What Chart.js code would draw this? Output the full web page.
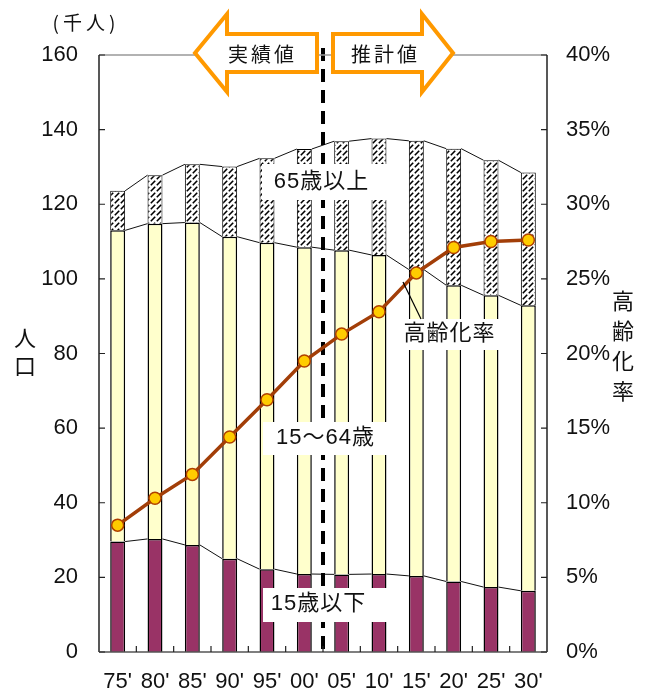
<!DOCTYPE html>
<html>
<head>
<meta charset="utf-8">
<script src="https://cdn.jsdelivr.net/npm/chart.js@4.4.1/dist/chart.umd.min.js"></script>
<style>
body { margin: 0; background: #fff; }
</style>
</head>
<body>
<canvas id="myChart" width="648" height="699"></canvas>
<script>
// 年（西暦下2桁）
const labels = ["75'", "80'", "85'", "90'", "95'", "00'", "05'", "10'", "15'", "20'", "25'", "30'"];
// 人口（千人）
const under15 = [29.6, 30.3, 28.7, 25.0, 22.2, 20.9, 20.8, 20.9, 20.4, 18.9, 17.4, 16.4];
const age15to64 = [83.4, 84.5, 86.4, 86.3, 87.5, 87.6, 86.9, 85.5, 82.1, 79.4, 78.2, 76.5];
const over65 = [10.6, 13.0, 15.6, 18.8, 22.6, 26.3, 29.2, 31.2, 34.5, 36.6, 36.2, 35.6];
// 高齢化率（%）
const agingRate = [8.5, 10.3, 11.9, 14.4, 16.9, 19.5, 21.3, 22.8, 25.4, 27.1, 27.5, 27.6];
const leftTicks = [0, 20, 40, 60, 80, 100, 120, 140, 160];
const rightTicks = [0, 5, 10, 15, 20, 25, 30, 35, 40];

const FONT = "'Liberation Sans', 'Noto Sans CJK JP', sans-serif";
const JP = "'Noto Sans CJK JP', sans-serif";

function hatch() {
    const c = document.createElement('canvas');
    c.width = 6; c.height = 6;
    const g = c.getContext('2d');
    g.fillStyle = '#fff';
    g.fillRect(0, 0, 6, 6);
    g.strokeStyle = '#000';
    g.lineWidth = 1.6;
    g.beginPath();
    g.moveTo(0.8, 5.2); g.lineTo(5.2, 0.8);
    g.stroke();
    return g.createPattern(c, 'repeat');
}

// 棒の間の区分線、破線
const seriesLines = {
    id: 'seriesLines',
    beforeDatasetDraw(chart, args) {
        if (args.index !== 3) return;
        const ctx = chart.ctx;
        ctx.save();
        ctx.strokeStyle = '#111';
        ctx.lineWidth = 1;
        for (let d = 0; d < 3; d++) {
            const els = chart.getDatasetMeta(d).data;
            for (let i = 0; i < els.length - 1; i++) {
                const a = els[i], b = els[i + 1];
                ctx.beginPath();
                ctx.moveTo(a.x + a.width / 2, a.y);
                ctx.lineTo(b.x - b.width / 2, b.y);
                ctx.stroke();
            }
        }
        const x = chart.scales.x;
        const dx = (x.getPixelForValue(5) + x.getPixelForValue(6)) / 2;
        ctx.strokeStyle = '#000';
        ctx.lineWidth = 4;
        ctx.setLineDash([13, 8]);
        ctx.beginPath();
        ctx.moveTo(dx, 48);
        ctx.lineTo(dx, chart.chartArea.bottom);
        ctx.stroke();
        ctx.restore();
    }
};

function spaced(ctx, text, cx, cy, gap) {
    const ws = [...text].map(ch => ctx.measureText(ch).width);
    let total = ws.reduce((s, w) => s + w, 0) + gap * (ws.length - 1);
    let x = cx - total / 2;
    ctx.textAlign = 'left';
    [...text].forEach((ch, i) => {
        ctx.fillText(ch, x, cy);
        x += ws[i] + gap;
    });
}

function box(ctx, x1, y1, x2, y2, text, cx, cy) {
    ctx.fillStyle = '#fff';
    ctx.fillRect(x1, y1, x2 - x1, y2 - y1);
    ctx.fillStyle = '#111';
    ctx.font = '22px ' + FONT;
    ctx.textBaseline = 'middle';
    spaced(ctx, text, cx, cy, 1);
}

const decorations = {
    id: 'decorations',
    beforeDraw(chart) {
        const ctx = chart.ctx;
        ctx.save();
        ctx.fillStyle = '#fff';
        ctx.fillRect(0, 0, chart.width, chart.height);
        ctx.restore();
    },
    afterDraw(chart) {
        const ctx = chart.ctx;
        const a = chart.chartArea;
        const y = chart.scales.y, y1 = chart.scales.y1, x = chart.scales.x;
        ctx.save();
        // 枠
        ctx.lineWidth = 1.5;
        ctx.strokeStyle = '#999';
        ctx.beginPath(); ctx.moveTo(a.left, a.top); ctx.lineTo(a.right, a.top); ctx.stroke();
        ctx.strokeStyle = '#222';
        ctx.beginPath();
        ctx.moveTo(a.left, a.top); ctx.lineTo(a.left, a.bottom);
        ctx.moveTo(a.right, a.top); ctx.lineTo(a.right, a.bottom);
        ctx.stroke();
        ctx.strokeStyle = '#555';
        ctx.beginPath(); ctx.moveTo(a.left, a.bottom); ctx.lineTo(a.right, a.bottom); ctx.stroke();
        // 目盛り（内向き）
        ctx.strokeStyle = '#222';
        ctx.lineWidth = 1.2;
        ctx.beginPath();
        leftTicks.forEach(v => { const p = y.getPixelForValue(v); ctx.moveTo(a.left, p); ctx.lineTo(a.left + 6, p); });
        rightTicks.forEach(v => { const p = y1.getPixelForValue(v); ctx.moveTo(a.right, p); ctx.lineTo(a.right - 6, p); });
        for (let i = 0; i < labels.length - 1; i++) {
            const p = (x.getPixelForValue(i) + x.getPixelForValue(i + 1)) / 2;
            ctx.moveTo(p, a.bottom); ctx.lineTo(p, a.bottom - 6);
        }
        ctx.stroke();

        // ラベル
        box(ctx, 262, 164, 390, 200, '65歳以上', 321, 182);
        box(ctx, 263, 422, 390, 455, '15～64歳', 325, 438);
        box(ctx, 263, 588, 388, 622, '15歳以下', 318, 604);
        box(ctx, 398, 319, 500, 350, '高齢化率', 449, 334);
        ctx.strokeStyle = '#000';
        ctx.lineWidth = 1.2;
        ctx.beginPath(); ctx.moveTo(403, 282); ctx.lineTo(421, 319); ctx.stroke();

        // 矢印
        ctx.lineWidth = 4;
        ctx.strokeStyle = '#FF9900';
        ctx.fillStyle = '#fff';
        ctx.lineJoin = 'miter';
        ctx.beginPath();
        [[195, 53], [227, 14], [227, 34], [317, 34], [317, 72], [227, 72], [227, 92]].forEach((p, i) => i ? ctx.lineTo(p[0], p[1]) : ctx.moveTo(p[0], p[1]));
        ctx.closePath(); ctx.fill(); ctx.stroke();
        ctx.beginPath();
        [[333, 34], [422, 34], [422, 14], [453, 53], [422, 92], [422, 72], [333, 72]].forEach((p, i) => i ? ctx.lineTo(p[0], p[1]) : ctx.moveTo(p[0], p[1]));
        ctx.closePath(); ctx.fill(); ctx.stroke();
        ctx.fillStyle = '#111';
        ctx.font = '20px ' + JP;
        ctx.textBaseline = 'middle';
        spaced(ctx, '実績値', 261, 54, 3);
        spaced(ctx, '推計値', 384, 54, 3);

        // 軸タイトル
        ctx.font = '19px ' + JP;
        spaced(ctx, '(千人)', 84, 23, 4);
        ctx.font = '22px ' + JP;
        ctx.textAlign = 'center';
        ctx.fillText('人', 25, 338);
        ctx.fillText('口', 25, 366);
        ['高', '齢', '化', '率'].forEach((ch, i) => ctx.fillText(ch, 623, 301 + i * 30));
        ctx.restore();
    }
};

const data = {
    labels: labels,
    datasets: [{
        label: '15歳以下',
        data: under15,
        backgroundColor: '#993366',
        borderColor: '#000',
        borderWidth: 1.5,
        order: 1
    }, {
        label: '15～64歳',
        data: age15to64,
        backgroundColor: '#FFFFCC',
        borderColor: '#000',
        borderWidth: 1.5,
        order: 1
    }, {
        label: '65歳以上',
        data: over65,
        backgroundColor: hatch(),
        borderColor: '#000',
        borderWidth: 1,
        order: 1
    }, {
        type: 'line',
        label: '高齢化率',
        data: agingRate,
        yAxisID: 'y1',
        borderColor: '#A23E08',
        borderWidth: 3.5,
        pointRadius: 6,
        pointBackgroundColor: '#FFCC00',
        pointBorderColor: '#B04000',
        pointBorderWidth: 1.5,
        tension: 0,
        order: 0
    }]
};

const config = {
    type: 'bar',
    data: data,
    options: {
        responsive: false,
        animation: false,
        devicePixelRatio: 1,
        layout: { padding: { top: 55, left: 0, right: 0, bottom: 0 } },
        datasets: { bar: { categoryPercentage: 1, barPercentage: 0.4 } },
        plugins: { legend: { display: false }, tooltip: { enabled: false } },
        scales: {
            x: {
                stacked: true,
                grid: { display: false, drawTicks: false },
                border: { display: false },
                ticks: { color: '#111', font: { family: FONT, size: 22 }, padding: 17, maxRotation: 0, autoSkip: false },
                afterFit: s => { s.height = 47; }
            },
            y: {
                stacked: true,
                min: 0, max: 160,
                afterBuildTicks: s => { s.ticks = leftTicks.map(v => ({ value: v })); },
                grid: { display: false, drawTicks: false },
                border: { display: false },
                ticks: { color: '#111', font: { family: FONT, size: 22 }, padding: 21 },
                afterFit: s => { s.width = 99; }
            },
            y1: {
                position: 'right',
                min: 0, max: 40,
                afterBuildTicks: s => { s.ticks = rightTicks.map(v => ({ value: v })); },
                grid: { display: false, drawTicks: false },
                border: { display: false },
                ticks: { color: '#111', font: { family: FONT, size: 22 }, padding: 19, callback: v => v + '%' },
                afterFit: s => { s.width = 101; }
            }
        }
    },
    plugins: [seriesLines, decorations]
};

const myChart = new Chart(document.getElementById('myChart'), config);
</script>
</body>
</html>
